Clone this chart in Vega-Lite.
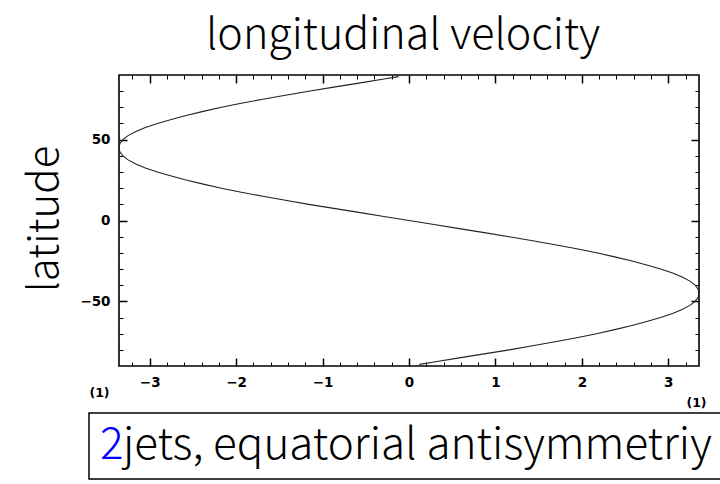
{
  "$schema": "https://vega.github.io/schema/vega-lite/v6.json",
  "width": 580,
  "height": 291,
  "autosize": {"type": "none"},
  "padding": {"left": 119, "top": 75, "right": 21, "bottom": 118},
  "background": "white",
  "title": {
    "text": "longitudinal velocity",
    "font": "Noto Sans CJK JP",
    "fontSize": 43,
    "fontWeight": 300,
    "color": "black",
    "anchor": "middle",
    "baseline": "alphabetic",
    "offset": -18,
    "dx": -6
  },
  "config": {
    "view": {"stroke": "black", "strokeWidth": 1.6},
    "axis": {"grid": false, "domain": false, "tickColor": "black", "labelColor": "black", "titleColor": "black"}
  },
  "data": {
    "values": [
      {"lat": 89, "u": -0.12}, {"lat": 87.5, "u": -0.29}, {"lat": 85, "u": -0.58}, {"lat": 82.5, "u": -0.87},
      {"lat": 80, "u": -1.16}, {"lat": 77.5, "u": -1.43}, {"lat": 75, "u": -1.69}, {"lat": 72.5, "u": -1.94},
      {"lat": 70, "u": -2.17}, {"lat": 67.5, "u": -2.38}, {"lat": 65, "u": -2.58}, {"lat": 62.5, "u": -2.75},
      {"lat": 60, "u": -2.91}, {"lat": 57.5, "u": -3.05}, {"lat": 55, "u": -3.16}, {"lat": 52.5, "u": -3.25},
      {"lat": 50, "u": -3.31}, {"lat": 47.5, "u": -3.345}, {"lat": 45, "u": -3.355}, {"lat": 42.5, "u": -3.345},
      {"lat": 40, "u": -3.31}, {"lat": 37.5, "u": -3.25}, {"lat": 35, "u": -3.16}, {"lat": 32.5, "u": -3.05},
      {"lat": 30, "u": -2.91}, {"lat": 27.5, "u": -2.75}, {"lat": 25, "u": -2.58}, {"lat": 22.5, "u": -2.38},
      {"lat": 20, "u": -2.17}, {"lat": 17.5, "u": -1.94}, {"lat": 15, "u": -1.69}, {"lat": 12.5, "u": -1.43},
      {"lat": 10, "u": -1.16}, {"lat": 7.5, "u": -0.87}, {"lat": 5, "u": -0.58}, {"lat": 2.5, "u": -0.29},
      {"lat": 0, "u": 0},
      {"lat": -2.5, "u": 0.29}, {"lat": -5, "u": 0.58}, {"lat": -7.5, "u": 0.87}, {"lat": -10, "u": 1.16},
      {"lat": -12.5, "u": 1.43}, {"lat": -15, "u": 1.69}, {"lat": -17.5, "u": 1.94}, {"lat": -20, "u": 2.17},
      {"lat": -22.5, "u": 2.38}, {"lat": -25, "u": 2.58}, {"lat": -27.5, "u": 2.75}, {"lat": -30, "u": 2.91},
      {"lat": -32.5, "u": 3.05}, {"lat": -35, "u": 3.16}, {"lat": -37.5, "u": 3.25}, {"lat": -40, "u": 3.31},
      {"lat": -42.5, "u": 3.345}, {"lat": -45, "u": 3.355}, {"lat": -47.5, "u": 3.345}, {"lat": -50, "u": 3.31},
      {"lat": -52.5, "u": 3.25}, {"lat": -55, "u": 3.16}, {"lat": -57.5, "u": 3.05}, {"lat": -60, "u": 2.91},
      {"lat": -62.5, "u": 2.75}, {"lat": -65, "u": 2.58}, {"lat": -67.5, "u": 2.38}, {"lat": -70, "u": 2.17},
      {"lat": -72.5, "u": 1.94}, {"lat": -75, "u": 1.69}, {"lat": -77.5, "u": 1.43}, {"lat": -80, "u": 1.16},
      {"lat": -82.5, "u": 0.87}, {"lat": -85, "u": 0.58}, {"lat": -87.5, "u": 0.29}, {"lat": -89, "u": 0.12}
    ]
  },
  "resolve": {"axis": {"x": "independent", "y": "independent"}},
  "layer": [
    {
      "mark": {"type": "line", "strokeWidth": 1.1, "clip": true},
      "encoding": {
        "x": {
          "field": "u", "type": "quantitative",
          "scale": {"domain": [-3.355, 3.355], "nice": false, "zero": false},
          "axis": {
            "orient": "bottom", "values": [-3, -2, -1, 0, 1, 2, 3],
            "tickSize": -8, "tickWidth": 1.5,
            "labelFont": "DejaVu Sans", "labelFontSize": 13.5, "labelFontWeight": "bold", "labelPadding": 17,
            "title": "(1)", "titleFont": "DejaVu Sans", "titleFontSize": 12.5, "titleFontWeight": "bold",
            "titleX": 577, "titleY": 36, "titleAlign": "center", "titleBaseline": "middle"
          }
        },
        "y": {
          "field": "lat", "type": "quantitative",
          "scale": {"domain": [-90, 90], "nice": false, "zero": false},
          "axis": {
            "orient": "left", "values": [-50, 0, 50],
            "tickSize": -8, "tickWidth": 1.5,
            "labelFont": "DejaVu Sans", "labelFontSize": 13.5, "labelFontWeight": "bold", "labelPadding": 17,
            "title": "latitude", "titleFont": "Noto Sans CJK JP", "titleFontSize": 42, "titleFontWeight": 300,
            "titleAngle": -90, "titleX": -62, "titleY": 143.5, "titleAlign": "center", "titleBaseline": "alphabetic"
          }
        },
        "order": {"field": "lat", "type": "quantitative"},
        "color": {
          "datum": "jets, equatorial antisymmetriy",
          "scale": {"range": ["#222222"]},
          "legend": {
            "title": "2",
            "orient": "none", "legendX": -30, "legendY": 338,
            "titleOrient": "left", "titleColor": "#0000ff",
            "titleFont": "Noto Sans CJK JP", "titleFontSize": 44, "titleFontWeight": 300,
            "titlePadding": 0, "titleBaseline": "middle", "titleAnchor": "middle",
            "labelFont": "Noto Sans CJK JP", "labelFontSize": 44, "labelFontWeight": 300,
            "labelColor": "black", "labelLimit": 0, "labelOffset": -45, "labelBaseline": "middle",
            "symbolSize": 0, "symbolOpacity": 0, "symbolStrokeWidth": 0,
            "strokeColor": "black", "fillColor": "white", "padding": 11,
            "encode": {"legend": {"update": {"strokeWidth": {"value": 1.5}}}}
          }
        }
      }
    },
    {
      "mark": {"type": "line", "strokeOpacity": 0},
      "encoding": {
        "x": {
          "field": "u", "type": "quantitative",
          "axis": {
            "orient": "bottom",
            "values": [-3.2, -2.8, -2.6, -2.4, -2.2, -1.8, -1.6, -1.4, -1.2, -0.8, -0.6, -0.4, -0.2, 0.2, 0.4, 0.6, 0.8, 1.2, 1.4, 1.6, 1.8, 2.2, 2.4, 2.6, 2.8, 3.2],
            "tickSize": -4, "tickWidth": 1, "labels": false, "title": null
          }
        },
        "y": {
          "field": "lat", "type": "quantitative",
          "axis": {
            "orient": "left",
            "values": [-80, -70, -60, -40, -30, -20, -10, 10, 20, 30, 40, 60, 70, 80],
            "tickSize": -4, "tickWidth": 1, "labels": false,
            "title": "(1)", "titleFont": "DejaVu Sans", "titleFontSize": 12.5, "titleFontWeight": "bold",
            "titleAngle": 0, "titleX": -20, "titleY": 317, "titleAlign": "center", "titleBaseline": "middle"
          }
        },
        "order": {"field": "lat", "type": "quantitative"}
      }
    },
    {
      "mark": {"type": "line", "strokeOpacity": 0},
      "encoding": {
        "x": {
          "field": "u", "type": "quantitative",
          "axis": {"orient": "top", "values": [-3, -2, -1, 0, 1, 2, 3], "tickSize": -8, "tickWidth": 1.5, "labels": false, "title": null}
        },
        "y": {
          "field": "lat", "type": "quantitative",
          "axis": {"orient": "right", "values": [-50, 0, 50], "tickSize": -8, "tickWidth": 1.5, "labels": false, "title": null}
        },
        "order": {"field": "lat", "type": "quantitative"}
      }
    },
    {
      "mark": {"type": "line", "strokeOpacity": 0},
      "encoding": {
        "x": {
          "field": "u", "type": "quantitative",
          "axis": {
            "orient": "top",
            "values": [-3.2, -2.8, -2.6, -2.4, -2.2, -1.8, -1.6, -1.4, -1.2, -0.8, -0.6, -0.4, -0.2, 0.2, 0.4, 0.6, 0.8, 1.2, 1.4, 1.6, 1.8, 2.2, 2.4, 2.6, 2.8, 3.2],
            "tickSize": -4, "tickWidth": 1, "labels": false, "title": null
          }
        },
        "y": {
          "field": "lat", "type": "quantitative",
          "axis": {
            "orient": "right",
            "values": [-80, -70, -60, -40, -30, -20, -10, 10, 20, 30, 40, 60, 70, 80],
            "tickSize": -4, "tickWidth": 1, "labels": false, "title": null
          }
        },
        "order": {"field": "lat", "type": "quantitative"}
      }
    }
  ]
}
